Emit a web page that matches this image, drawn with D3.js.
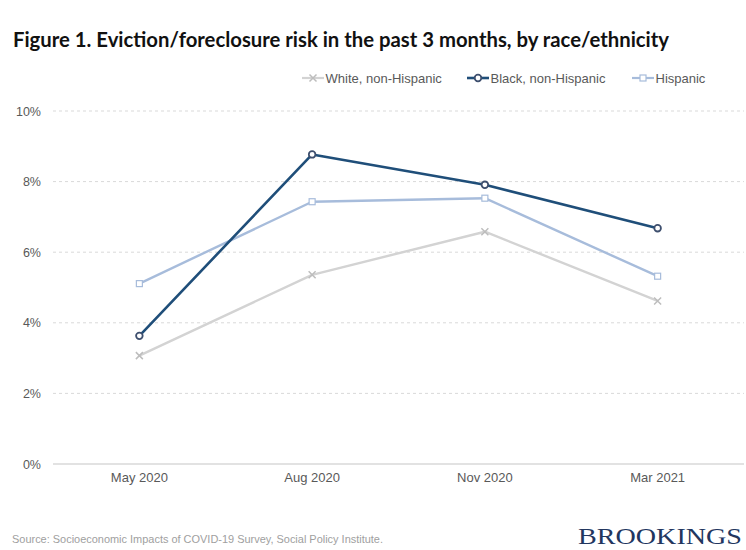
<!DOCTYPE html>
<html>
<head>
<meta charset="utf-8">
<script src="https://cdn.jsdelivr.net/npm/d3@7"></script>
<style>
  html, body { margin: 0; padding: 0; background: #fff; }
  svg { display: block; }
</style>
</head>
<body>
<script>
// Survey waves and eviction/foreclosure risk (%) by group
const periods = ["May 2020", "Aug 2020", "Nov 2020", "Mar 2021"];
const whiteNH = [3.07, 5.36, 6.58, 4.62];
const blackNH = [3.63, 8.77, 7.91, 6.68];
const hispanic = [5.11, 7.43, 7.53, 5.32];
const yTicks = [0, 2, 4, 6, 8, 10];
const seriesNames = ["White, non-Hispanic", "Black, non-Hispanic", "Hispanic"];

const W = 746, H = 550;
const margin = { left: 53, right: 2, top: 111, bottom: 86 };

const svg = d3.select("body").append("svg")
  .attr("width", W).attr("height", H)
  .style("font-family", "'Liberation Sans', Arial, sans-serif");

const x = d3.scaleBand().domain(periods)
  .range([margin.left, W - margin.right]);
const y = d3.scaleLinear().domain([0, 10])
  .range([H - margin.bottom, margin.top]);

// Title
svg.append("text")
  .attr("x", 13).attr("y", 47)
  .attr("textLength", 656).attr("lengthAdjust", "spacingAndGlyphs")
  .style("font-family", "Lato, 'Open Sans', sans-serif")
  .style("font-weight", "bold").style("font-size", "20px")
  .attr("fill", "#111")
  .text("Figure 1. Eviction/foreclosure risk in the past 3 months, by race/ethnicity");

// Gridlines
const grid = svg.append("g");
grid.selectAll("line").data(yTicks.filter(d => d > 0)).join("line")
  .attr("x1", margin.left).attr("x2", W - margin.right)
  .attr("y1", d => y(d)).attr("y2", d => y(d))
  .attr("stroke", "#d9d9d9").attr("stroke-width", 1)
  .attr("stroke-dasharray", "3,3");

// Baseline
svg.append("line")
  .attr("x1", margin.left).attr("x2", W - margin.right)
  .attr("y1", y(0)).attr("y2", y(0))
  .attr("stroke", "#d9d9d9").attr("stroke-width", 1.5);

// Y axis labels
const yAxis = svg.append("g")
  .attr("transform", `translate(${margin.left},0)`)
  .call(d3.axisLeft(y).tickValues(yTicks).tickFormat(d => d + "%").tickSize(0).tickPadding(12));
yAxis.select(".domain").remove();
yAxis.selectAll("text")
  .style("font-size", "12.5px").attr("fill", "#595959")
  .style("font-family", "'Liberation Sans', Arial, sans-serif");

// X axis labels
const xAxis = svg.append("g")
  .attr("transform", `translate(0,${y(0)})`)
  .call(d3.axisBottom(x).tickSize(0).tickPadding(9));
xAxis.select(".domain").remove();
xAxis.selectAll("text")
  .style("font-size", "13px").attr("fill", "#595959")
  .style("font-family", "'Liberation Sans', Arial, sans-serif");

const cx = p => x(p) + x.bandwidth() / 2;

const series = [
  { name: seriesNames[0], values: whiteNH, color: "#d3d3d3", mark: "cross", markColor: "#bdbdbd" },
  { name: seriesNames[2], values: hispanic, color: "#a7bcdb", mark: "square", markColor: "#a7bcdb" },
  { name: seriesNames[1], values: blackNH, color: "#1f4e79", mark: "circle", markColor: "#3e4f6e" }
];

const line = d3.line().x((d, i) => cx(periods[i])).y(d => y(d));

function drawMarker(g, type, px, py, color) {
  if (type === "circle") {
    g.append("circle").attr("cx", px).attr("cy", py).attr("r", 3.3)
      .attr("fill", "#fff").attr("stroke", color).attr("stroke-width", 1.8);
  } else if (type === "square") {
    g.append("rect").attr("x", px - 3).attr("y", py - 3).attr("width", 6).attr("height", 6)
      .attr("fill", "#fff").attr("stroke", color).attr("stroke-width", 1.2);
  } else {
    const s = 3.5;
    g.append("path")
      .attr("d", `M${px - s},${py - s}L${px + s},${py + s}M${px - s},${py + s}L${px + s},${py - s}`)
      .attr("stroke", color).attr("stroke-width", 1.5).attr("fill", "none");
  }
}

series.forEach(s => {
  const g = svg.append("g");
  g.append("path").datum(s.values)
    .attr("d", line).attr("fill", "none")
    .attr("stroke", s.color).attr("stroke-width", s.mark === "circle" ? 2.6 : 2.4)
    .attr("stroke-linejoin", "round");
  s.values.forEach((v, i) => drawMarker(g, s.mark, cx(periods[i]), y(v), s.markColor));
});

// Legend
const legendItems = [
  { s: series[0], x0: 302 },
  { s: series[2], x0: 467 },
  { s: series[1], x0: 632 }
].sort((a, b) => a.x0 - b.x0);
const ly = 78;
legendItems.forEach(({ s, x0 }) => {
  const g = svg.append("g");
  g.append("line").attr("x1", x0).attr("x2", x0 + 22).attr("y1", ly).attr("y2", ly)
    .attr("stroke", s.color).attr("stroke-width", s.mark === "circle" ? 2.6 : 2.2);
  drawMarker(g, s.mark, x0 + 11, ly, s.markColor);
  g.append("text").attr("x", x0 + 23.5).attr("y", ly + 4.5)
    .style("font-size", "13px").attr("fill", "#595959")
    .text(s.name);
});

// Source note
svg.append("text")
  .attr("x", 12).attr("y", 543)
  .attr("textLength", 371).attr("lengthAdjust", "spacingAndGlyphs")
  .style("font-size", "11px").attr("fill", "#a0a0a0")
  .text("Source: Socioeconomic Impacts of COVID-19 Survey, Social Policy Institute.");

// Brand mark
svg.append("text")
  .attr("x", 578).attr("y", 544)
  .attr("textLength", 164).attr("lengthAdjust", "spacingAndGlyphs")
  .style("font-family", "'Liberation Serif', 'DejaVu Serif', serif")
  .style("font-size", "24px").attr("fill", "#22365f")
  .text("BROOKINGS");
</script>
</body>
</html>
